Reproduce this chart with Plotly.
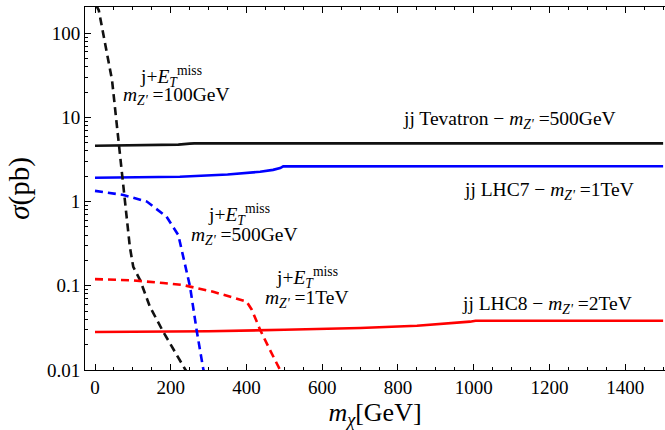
import plotly.graph_objects as go

# ---- data ----
tev_x = [0, 150, 220, 250, 262, 1500]
tev_y = [4.6, 4.65, 4.75, 4.88, 4.92, 4.92]

lhc7_x = [0, 224, 350, 436, 470, 489, 497, 1500]
lhc7_y = [1.92, 1.97, 2.1, 2.26, 2.38, 2.5, 2.62, 2.63]

lhc8_x = [0, 300, 500, 700, 850, 950, 990, 1005, 1500]
lhc8_y = [0.0283, 0.0288, 0.030, 0.0315, 0.0335, 0.036, 0.0375, 0.0385, 0.0385]

mono100_x = [3, 10, 45, 63, 75, 83, 92, 101, 119, 145, 180, 238, 250]
mono100_y = [215, 187, 27.7, 4.9, 1.8, 0.8, 0.29, 0.168, 0.117, 0.0564, 0.0285, 0.0102, 0.0085]

mono500_x = [0, 75, 137, 189, 220, 251, 269, 286, 292]
mono500_y = [1.34, 1.2, 1.0, 0.66, 0.40, 0.0975, 0.0285, 0.0102, 0.0085]

mono1t_x = [0, 100, 180, 233, 312, 380, 400, 414, 436, 460, 489, 495]
mono1t_y = [0.12, 0.116, 0.108, 0.102, 0.085, 0.07, 0.065, 0.052, 0.030, 0.018, 0.0102, 0.0088]

x_ticks = [0, 200, 400, 600, 800, 1000, 1200, 1400]
y_ticks = [0.01, 0.1, 1, 10, 100]
y_ticktext = ["0.01", "0.1", "1", "10", "100"]

FONT = "Liberation Serif, Times New Roman, serif"

fig = go.Figure()

def add(x, y, color, dash=None):
    fig.add_trace(go.Scatter(
        x=x, y=y, mode="lines", showlegend=False, hoverinfo="skip",
        line=dict(color=color, width=2.6, dash=dash if dash else "solid")))

add(tev_x, tev_y, "#111111")
add(lhc7_x, lhc7_y, "#0000ff")
add(lhc8_x, lhc8_y, "#ff0000")
add(mono100_x, mono100_y, "#111111", "8px,5px")
add(mono500_x, mono500_y, "#0000ff", "8px,5px")
add(mono1t_x, mono1t_y, "#ff0000", "8px,5px")

ET = "j+<i>E</i><sub><i>T</i></sub><sup>miss</sup>"
MZ = "<i>m</i><sub><i>Z'</i></sub> ="

annos = [
    (200, 1.49, ET, "center"),
    (216, 1.25, MZ + "100GeV", "center"),
    (380, -0.150, ET, "center"),
    (396, -0.41, MZ + "500GeV", "center"),
    (560, -0.898, ET, "center"),
    (559, -1.155, MZ + "1TeV", "center"),
    (807, 0.967, "jj Tevatron − " + MZ + "500GeV", "left"),
    (970, 0.125, "jj LHC7 − " + MZ + "1TeV", "left"),
    (964, -1.228, "jj LHC8 − " + MZ + "2TeV", "left"),
]
for x, y, t, xa in annos:
    fig.add_annotation(x=x, y=y, text=t, showarrow=False, xanchor=xa, yanchor="middle",
                       font=dict(family=FONT, size=19.5, color="black"))

fig.update_layout(
    width=665, height=430,
    margin=dict(l=85, r=0, t=7, b=60, autoexpand=False),
    paper_bgcolor="white", plot_bgcolor="white",
    font=dict(family=FONT, size=19, color="black"),
)
fig.update_xaxes(
    automargin=False,
    range=[-26.4, 1505], tickvals=x_ticks, ticks="inside", ticklen=6, tickwidth=1,
    tickcolor="black", showline=True, linecolor="black", linewidth=1, mirror="ticks",
    showgrid=False, zeroline=False,
    minor=dict(ticks="inside", ticklen=3, dtick=50, tick0=0, tickcolor="black", showgrid=False),
    tickfont=dict(family=FONT, size=19),
    title=dict(text="<i>m</i><sub><i>χ</i></sub>[GeV]", font=dict(family=FONT, size=26), standoff=0),
)
fig.update_yaxes(
    automargin=False,
    type="log", range=[-2, 2.311], tickvals=y_ticks, ticktext=y_ticktext,
    ticks="inside", ticklen=6, tickwidth=1, tickcolor="black",
    showline=True, linecolor="black", linewidth=1, showgrid=False, zeroline=False,
    minor=dict(ticks="inside", ticklen=3, dtick="D1", tickcolor="black", showgrid=False),
    tickfont=dict(family=FONT, size=19),
    title=dict(text="<i>σ</i>(pb)", font=dict(family=FONT, size=29), standoff=8),
)

fig.write_html("out.html", config={"displayModeBar": False},
               post_script="document.body.style.margin='0px';")
